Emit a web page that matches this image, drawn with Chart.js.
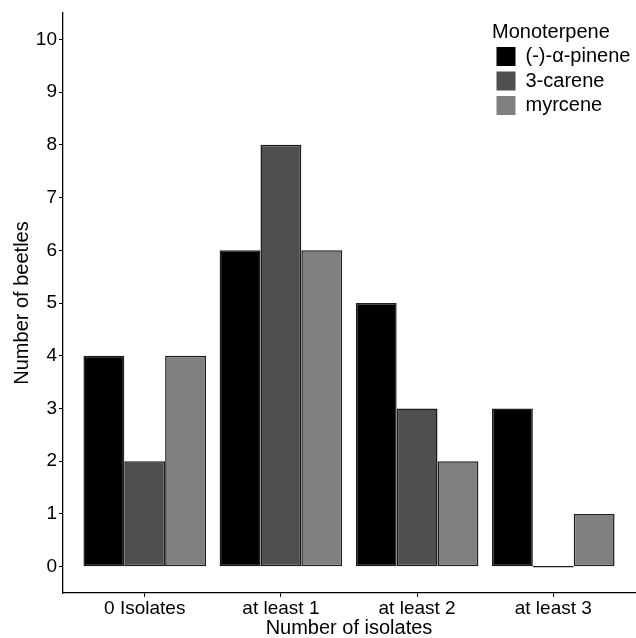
<!DOCTYPE html>
<html>
<head>
<meta charset="utf-8">
<script src="https://cdn.jsdelivr.net/npm/chart.js@4/dist/chart.umd.min.js"></script>
<style>
  html, body { margin: 0; padding: 0; background: #ffffff; }
  #wrap { width: 636px; height: 638px; }
</style>
</head>
<body>
<div id="wrap"><canvas id="c" width="636" height="638"></canvas></div>
<script>
// ---- data ----
const categories = ['0 Isolates', 'at least 1', 'at least 2', 'at least 3'];
const seriesNames = ['(-)-\u03b1-pinene', '3-carene', 'myrcene'];
const pinene = [4, 6, 5, 3];
const carene = [2, 8, 3, 0];
const myrcene = [4, 6, 2, 1];
const yTicks = [0, 1, 2, 3, 4, 5, 6, 7, 8, 9, 10];
const xTitle = 'Number of isolates';
const yTitle = 'Number of beetles';
const legendTitle = 'Monoterpene';

// ---- styles ----
const FONT = "'Liberation Sans', Arial, Helvetica, sans-serif";
const fills = ['#000000', '#4f4f4f', '#7f7f7f'];
const seriesValues = [pinene, carene, myrcene];

const toPoints = vals => vals.map((v, i) => ({ x: i + 1, y: v }));

const datasets = seriesValues.map((vals, k) => ({
  label: seriesNames[k],
  data: toPoints(vals),
  backgroundColor: fills[k],
  borderColor: '#1c1c1c',
  borderWidth: 1.5,
  borderSkipped: false,
  minBarLength: 1.5,
  categoryPercentage: 0.9,
  barPercentage: 1.0
}));

const legendPlace = {
  id: 'legendPlace',
  afterLayout(chart) {
    const lg = chart.legend;
    const ca = chart.chartArea;
    lg.left = ca.right - 143;
    lg.right = lg.left + lg.width;
    lg.top = ca.top;
    lg.bottom = lg.top + lg.height;
  }
};

new Chart(document.getElementById('c'), {
  type: 'bar',
  data: { datasets },
  options: {
    responsive: false,
    devicePixelRatio: 1,
    animation: false,
    layout: { padding: { top: 13, right: 1, left: 0, bottom: 0 } },
    plugins: {
      tooltip: { enabled: false },
      legend: {
        position: 'chartArea',
        align: 'start',
        title: {
          display: true,
          text: legendTitle,
          position: 'start',
          color: '#000000',
          font: { family: FONT, size: 20, lineHeight: 1 },
          padding: { top: 9, bottom: 0 }
        },
        labels: {
          color: '#000000',
          font: { family: FONT, size: 20 },
          boxWidth: 19,
          boxHeight: 19,
          padding: 4.5,
          generateLabels(chart) {
            return Chart.defaults.plugins.legend.labels.generateLabels(chart)
              .map(l => Object.assign(l, { lineWidth: 0, strokeStyle: 'rgba(0,0,0,0)' }));
          }
        }
      }
    },
    scales: {
      x: {
        type: 'linear',
        min: 0.4,
        max: 4.6,
        offset: false,
        grid: { display: true, drawOnChartArea: false, drawTicks: true, tickLength: 4, color: '#000000', lineWidth: 1, offset: false },
        border: { display: true, color: '#000000', width: 1.3 },
        afterBuildTicks(scale) { scale.ticks = categories.map((c, i) => ({ value: i + 1 })); },
        afterFit(scale) { scale.height = 45; },
        ticks: {
          autoSkip: false,
          maxRotation: 0,
          minRotation: 0,
          padding: 2,
          color: '#000000',
          font: { family: FONT, size: 19, lineHeight: 1 },
          callback: v => categories[Math.round(v) - 1]
        },
        title: {
          display: true,
          text: xTitle,
          color: '#000000',
          font: { family: FONT, size: 20, lineHeight: 1 },
          padding: { top: 0, bottom: 0 }
        }
      },
      y: {
        type: 'linear',
        min: -0.5,
        max: 10.5,
        grid: { display: true, drawOnChartArea: false, drawTicks: true, tickLength: 4, color: '#000000', lineWidth: 1 },
        border: { display: true, color: '#000000', width: 1.3 },
        afterBuildTicks(scale) { scale.ticks = yTicks.map(v => ({ value: v })); },
        afterFit(scale) { scale.width = 63; },
        ticks: {
          padding: 2,
          color: '#000000',
          font: { family: FONT, size: 19, lineHeight: 1 },
          callback: v => String(v)
        },
        title: {
          display: true,
          text: yTitle,
          color: '#000000',
          font: { family: FONT, size: 20, lineHeight: 1 },
          padding: { top: 12, bottom: 0 }
        }
      }
    }
  },
  plugins: [legendPlace]
});
</script>
</body>
</html>
